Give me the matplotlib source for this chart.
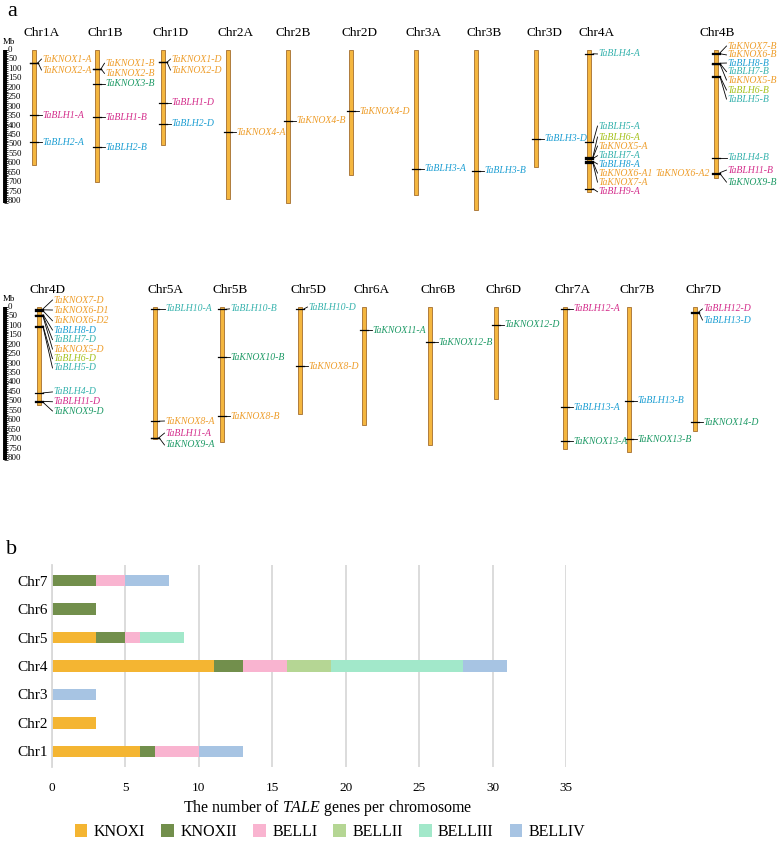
import re
import matplotlib
matplotlib.use("Agg")
import matplotlib.pyplot as plt

plt.rcParams['font.family'] = ['Liberation Serif', 'DejaVu Serif']
plt.rcParams['mathtext.fontset'] = 'custom'
plt.rcParams['mathtext.rm'] = 'Liberation Serif'
plt.rcParams['mathtext.it'] = 'Liberation Serif:italic'

# ---------------- panel a: chromosome map ----------------
row1_chroms = ['Chr1A', 'Chr1B', 'Chr1D', 'Chr2A', 'Chr2B', 'Chr2D',
               'Chr3A', 'Chr3B', 'Chr3D', 'Chr4A', 'Chr4B']
row1_lengths = [608, 700, 505, 790, 810, 660, 770, 850, 620, 750, 680]
row2_chroms = ['Chr4D', 'Chr5A', 'Chr5B', 'Chr5D', 'Chr6A', 'Chr6B',
               'Chr6D', 'Chr7A', 'Chr7B', 'Chr7D']
row2_lengths = [520, 700, 715, 565, 625, 730, 490, 753, 768, 657]

gene_chrom = (['Chr1A'] * 4 + ['Chr1B'] * 5 + ['Chr1D'] * 4
              + ['Chr2A', 'Chr2B', 'Chr2D', 'Chr3A', 'Chr3B', 'Chr3D']
              + ['Chr4A'] * 10 + ['Chr4B'] * 10 + ['Chr4D'] * 11
              + ['Chr5A'] * 4 + ['Chr5B'] * 3 + ['Chr5D'] * 2
              + ['Chr6A', 'Chr6B', 'Chr6D']
              + ['Chr7A'] * 3 + ['Chr7B'] * 2 + ['Chr7D'] * 3)
gene_name = [
    'TaKNOX1-A', 'TaKNOX2-A', 'TaBLH1-A', 'TaBLH2-A',
    'TaKNOX1-B', 'TaKNOX2-B', 'TaKNOX3-B', 'TaBLH1-B', 'TaBLH2-B',
    'TaKNOX1-D', 'TaKNOX2-D', 'TaBLH1-D', 'TaBLH2-D',
    'TaKNOX4-A', 'TaKNOX4-B', 'TaKNOX4-D', 'TaBLH3-A', 'TaBLH3-B', 'TaBLH3-D',
    'TaBLH4-A', 'TaBLH5-A', 'TaBLH6-A', 'TaKNOX5-A', 'TaBLH7-A', 'TaBLH8-A',
    'TaKNOX6-A1', 'TaKNOX6-A2', 'TaKNOX7-A', 'TaBLH9-A',
    'TaKNOX7-B', 'TaKNOX6-B', 'TaBLH8-B', 'TaBLH7-B', 'TaKNOX5-B', 'TaBLH6-B',
    'TaBLH5-B', 'TaBLH4-B', 'TaBLH11-B', 'TaKNOX9-B',
    'TaKNOX7-D', 'TaKNOX6-D1', 'TaKNOX6-D2', 'TaBLH8-D', 'TaBLH7-D', 'TaKNOX5-D',
    'TaBLH6-D', 'TaBLH5-D', 'TaBLH4-D', 'TaBLH11-D', 'TaKNOX9-D',
    'TaBLH10-A', 'TaKNOX8-A', 'TaBLH11-A', 'TaKNOX9-A',
    'TaBLH10-B', 'TaKNOX10-B', 'TaKNOX8-B',
    'TaBLH10-D', 'TaKNOX8-D',
    'TaKNOX11-A', 'TaKNOX12-B', 'TaKNOX12-D',
    'TaBLH12-A', 'TaBLH13-A', 'TaKNOX13-A',
    'TaBLH13-B', 'TaKNOX13-B',
    'TaBLH12-D', 'TaBLH13-D', 'TaKNOX14-D']
# physical position (Mb)
gene_pos = [67, 67, 345, 490,
            100, 100, 180, 355, 515,
            65, 65, 280, 390,
            435, 375, 325, 630, 640, 470,
            20, 490, 565, 570, 575, 590, 595, 595, 600, 735,
            15, 20, 70, 72, 75, 140, 142, 572, 650, 655,
            10, 15, 20, 40, 45, 50, 100, 105, 455, 500, 505,
            10, 605, 692, 692,
            12, 265, 578,
            10, 313,
            122, 186, 95,
            10, 530, 710,
            498, 700,
            25, 30, 610]

# layout: where the label text sits (Mb) and x positions (px)
label_mb = [48, 106, 345, 490,
            70, 124, 180, 355, 515,
            48, 106, 280, 390,
            435, 375, 325, 630, 640, 470,
            21, 403, 461, 509, 560, 604, 652, 652, 700, 751,
            -21, 26, 69, 115, 159, 212, 260, 572, 636, 700,
            -37, 16, 73, 122, 173, 223, 274, 323, 450, 502, 551,
            10, 604, 668, 731,
            10, 265, 578,
            0, 313,
            122, 186, 95,
            10, 530, 710,
            498, 700,
            10, 69, 610]
chrom_x = {'Chr1A': 34, 'Chr1B': 97, 'Chr1D': 163, 'Chr2A': 228, 'Chr2B': 288,
           'Chr2D': 351, 'Chr3A': 416, 'Chr3B': 476, 'Chr3D': 536, 'Chr4A': 589,
           'Chr4B': 716, 'Chr4D': 39, 'Chr5A': 155, 'Chr5B': 222, 'Chr5D': 300,
           'Chr6A': 364, 'Chr6B': 430, 'Chr6D': 496, 'Chr7A': 565, 'Chr7B': 629,
           'Chr7D': 695}
text_off = {'Chr4A': 9, 'Chr4B': 11, 'Chr4D': 14, 'Chr5A': 10}
title_off = {'Chr2B': 5, 'Chr4B': 1, 'Chr5A': 10, 'Chr5B': 8}

subfam_of = {('KNOX', n): 'KNOXI' for n in (1, 2, 4, 5, 6, 7, 8)}
subfam_of.update({('KNOX', n): 'KNOXII' for n in (3, 9, 10, 11, 12, 13, 14)})
subfam_of.update({('BLH', n): 'BELLI' for n in (1, 9, 11, 12)})
subfam_of.update({('BLH', n): 'BELLII' for n in (6,)})
subfam_of.update({('BLH', n): 'BELLIII' for n in (4, 5, 7, 10)})
subfam_of.update({('BLH', n): 'BELLIV' for n in (2, 3, 8, 13)})
text_colors = {'KNOXI': '#EE9D2A', 'KNOXII': '#1E9A66', 'BELLI': '#D42F8C',
               'BELLII': '#A6C21E', 'BELLIII': '#38B3AE', 'BELLIV': '#1E9FD3'}

# ---------------- panel b: counts per chromosome ----------------
groups = ['Chr1', 'Chr2', 'Chr3', 'Chr4', 'Chr5', 'Chr6', 'Chr7']
subfamilies = ['KNOXI', 'KNOXII', 'BELLI', 'BELLII', 'BELLIII', 'BELLIV']
KNOXI = [6, 3, 0, 11, 3, 0, 0]
KNOXII = [1, 0, 0, 2, 2, 3, 3]
BELLI = [3, 0, 0, 3, 1, 0, 2]
BELLII = [0, 0, 0, 3, 0, 0, 0]
BELLIII = [0, 0, 0, 9, 3, 0, 0]
BELLIV = [3, 0, 3, 3, 0, 0, 3]
bar_colors = ['#F4B532', '#728F4C', '#F9B4D0', '#B5D694', '#A2E8CA', '#A7C4E3']

W, H = 780, 844
K = 800 / 151.0  # Mb per pixel
fig = plt.figure(figsize=(W / 100, H / 100), dpi=100)


def make_row(top_px, bot_px, zero_px):
    ax = fig.add_axes([0, 1 - bot_px / H, 1, (bot_px - top_px) / H])
    ax.set_xlim(0, W)
    ax.set_ylim((bot_px - zero_px) * K, (top_px - zero_px) * K)
    ax.axis('off')
    # ruler
    ax.plot([5, 5], [0, 812], color='black', lw=2.8, solid_capstyle='butt')
    ax.hlines(range(0, 811, 10), 3.5, 7.5, color='black', lw=0.5)
    for v in range(0, 801, 50):
        ax.text(8, v, str(v), fontsize=6.3, va='center', ha='left')
    ax.text(3, -40, 'Mb', fontsize=6.5, va='center', ha='left')
    return ax


ax1 = make_row(0, 250, 50)
ax2 = make_row(255, 475, 307)

for ax, chroms, lengths in [(ax1, row1_chroms, row1_lengths),
                            (ax2, row2_chroms, row2_lengths)]:
    ax.bar([chrom_x[c] for c in chroms], lengths, bottom=0, width=4.2,
           color='#F4B63F', edgecolor='#A46E2E', linewidth=0.6)
    for c in chroms:
        ax.text(chrom_x[c] + title_off.get(c, 8), -88, c, fontsize=9.5,
                ha='center', va='center')

for c, name, pos, lab in zip(gene_chrom, gene_name, gene_pos, label_mb):
    ax = ax1 if c in row1_chroms else ax2
    cx = chrom_x[c]
    off = text_off.get(c, 8)
    fam, num = re.match(r'Ta(KNOX|BLH)(\d+)', name).groups()
    col = text_colors[subfam_of[(fam, int(num))]]
    if name == 'TaKNOX6-A2':
        ax.text(cx + 66, lab, name, color=col, fontsize=7, style='italic',
                va='center', ha='left')
        continue
    ax.plot([cx - 4, cx + 4], [pos, pos], color='black', lw=0.9)
    ax.plot([cx + 4, cx + off - 0.5], [pos, lab], color='black', lw=0.6)
    ax.text(cx + off, lab, name, color=col, fontsize=7, style='italic',
            va='center', ha='left')

fig.text(12 / W, 1 - 11 / H, 'a', fontsize=16, ha='center', va='center')
fig.text(12 / W, 1 - 550 / H, 'b', fontsize=16, ha='center', va='center')

# ---------------- panel b ----------------
axb = fig.add_axes([52 / W, 1 - 767 / H, (566 - 52) / W, 202 / H])
series = [KNOXI, KNOXII, BELLI, BELLII, BELLIII, BELLIV]
left = [0] * len(groups)
for lab, vals, col in zip(subfamilies, series, bar_colors):
    axb.barh(groups, vals, left=left, height=0.4, color=col, label=lab)
    left = [a + b for a, b in zip(left, vals)]
axb.set_ylim(-0.55, 6.55)
axb.set_xlim(0, 35)
axb.set_xticks(range(0, 36, 5))
axb.set_axisbelow(True)
axb.xaxis.grid(True, color='#D9D9D9', lw=1.3)
for s in ['top', 'right', 'bottom']:
    axb.spines[s].set_visible(False)
axb.spines['left'].set_color('#D9D9D9')
axb.spines['left'].set_linewidth(1.3)
axb.tick_params(axis='x', length=0, pad=11, labelsize=9.5)
axb.tick_params(axis='y', length=0, pad=3, labelsize=11)
axb.set_xlabel(r'The number of $\mathit{TALE}$ genes per chromosome',
               fontsize=11.5)
axb.xaxis.set_label_coords((328 - 52) / (566 - 52), -0.155)
fig.legend(loc='center', bbox_to_anchor=(330 / W, 1 - 832 / H), ncol=6,
           frameon=False, fontsize=11.5, handlelength=0.8, handleheight=0.9,
           handletextpad=0.4, columnspacing=1.0)

fig.savefig('out.png', dpi=100)
